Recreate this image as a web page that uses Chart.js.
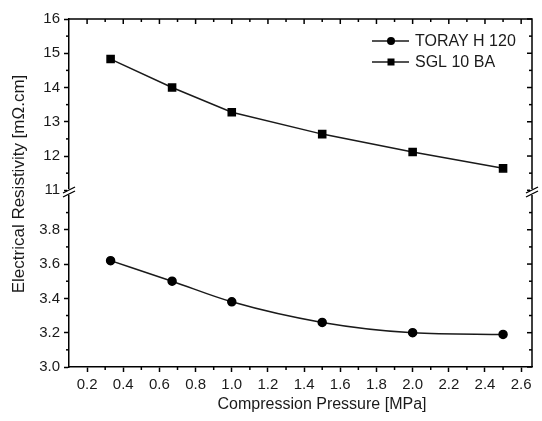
<!DOCTYPE html>
<html>
<head>
<meta charset="utf-8">
<script src="https://cdn.jsdelivr.net/npm/chart.js@4"></script>
<style>
  html,body{margin:0;padding:0;background:#fff;}
  #wrap{width:542px;height:421px;}
</style>
</head>
<body>
<div id="wrap"><canvas id="chart"></canvas></div>
<script>
// ------------------- Data -------------------
const pressure = [0.33, 0.67, 1.0, 1.5, 2.0, 2.5];
const toray = [3.62, 3.50, 3.38, 3.26, 3.20, 3.19];
const sgl = [14.83, 14.0, 13.28, 12.64, 12.12, 11.64];
const seriesNames = ["TORAY H 120", "SGL 10 BA"];

const xTicks = [0.2, 0.4, 0.6, 0.8, 1.0, 1.2, 1.4, 1.6, 1.8, 2.0, 2.2, 2.4, 2.6];
const lowTicks = [3.0, 3.2, 3.4, 3.6, 3.8];
const highTicks = [11, 12, 13, 14, 15, 16];

const FONT = "'Liberation Sans', Arial, sans-serif";
const INK = "#1a1a1a";

// midpoints between majors -> minor tick values
function minorsOf(ticks, lo, hi){
  const step = ticks[1] - ticks[0];
  const out = [];
  for (let v = ticks[0] - step/2; v < hi; v += step) {
    if (v > lo + 1e-6) out.push(+v.toFixed(3));
  }
  return out;
}

// ------------------- Plugin: frame, minor ticks, break, titles, legend -------------------
const framePlugin = {
  id: "frame",
  afterDraw(c){
    const ctx = c.ctx;
    const a = c.chartArea;
    const sx = c.scales.x, hi = c.scales.yHigh, lo = c.scales.yLow;
    ctx.save();
    ctx.strokeStyle = "#000";
    ctx.lineWidth = 1.5;

    // top and right border
    ctx.beginPath();
    ctx.moveTo(a.left, a.top); ctx.lineTo(a.right, a.top); ctx.lineTo(a.right, a.bottom);
    ctx.stroke();

    const line = (x1,y1,x2,y2)=>{ ctx.beginPath(); ctx.moveTo(x1,y1); ctx.lineTo(x2,y2); ctx.stroke(); };

    // x ticks: minors below, mirrored on top
    xTicks.forEach(v=>{
      const px = sx.getPixelForValue(v);
      line(px, a.top, px, a.top + 5);
    });
    minorsOf(xTicks, sx.min, sx.max).forEach(v=>{
      const px = sx.getPixelForValue(v);
      line(px, a.bottom, px, a.bottom + 3);
      line(px, a.top, px, a.top + 3);
    });

    // y ticks
    [[hi, highTicks], [lo, lowTicks]].forEach(([s, ticks])=>{
      ticks.forEach(v=>{
        if (v < s.min || v > s.max) return;
        const py = s.getPixelForValue(v);
        line(a.right - 5, py, a.right, py);
      });
      minorsOf(ticks, s.min, s.max).forEach(v=>{
        const py = s.getPixelForValue(v);
        line(a.left - 3, py, a.left, py);
        line(a.right - 3, py, a.right, py);
      });
    });

    // axis break marks
    const yb = lo.top;
    [a.left, a.right].forEach(x=>{
      ctx.fillStyle = "#fff";
      ctx.fillRect(x - 2, yb - 3, 4, 6);
      ctx.lineWidth = 1.3;
      line(x - 6, yb + 1, x + 6, yb - 5);
      line(x - 6, yb + 5, x + 6, yb - 1);
    });

    // axis titles
    ctx.fillStyle = INK;
    ctx.font = "16px " + FONT;
    ctx.textAlign = "center";
    ctx.textBaseline = "middle";
    ctx.fillText("Compression Pressure [MPa]", 322, 405);
    ctx.save();
    ctx.translate(19, 184);
    ctx.rotate(-Math.PI/2);
    ctx.font = "17px " + FONT;
    ctx.fillText("Electrical Resistivity [m\u03a9.cm]", 0, 0);
    ctx.restore();

    // legend
    const rows = [{y: 41, style: "circle"}, {y: 62, style: "rect"}];
    rows.forEach((r, i)=>{
      ctx.strokeStyle = INK;
      ctx.lineWidth = 1.5;
      line(372, r.y, 409, r.y);
      ctx.fillStyle = "#000";
      if (r.style === "circle") {
        ctx.beginPath(); ctx.arc(391, r.y, 4, 0, Math.PI*2); ctx.fill();
      } else {
        ctx.fillRect(387.5, r.y - 3.5, 7, 7);
      }
      ctx.fillStyle = INK;
      ctx.font = "16px " + FONT;
      ctx.textAlign = "left";
      ctx.fillText(seriesNames[i], 415, r.y + 1);
    });
    ctx.restore();
  }
};

// ------------------- Chart -------------------
const tickFont = { family: FONT, size: 15 };
const grid = { drawOnChartArea: false, drawTicks: true, tickLength: 5, color: "#000", tickWidth: 1.5 };
const border = { display: true, color: "#000", width: 1.5 };

new Chart(document.getElementById("chart"), {
  type: "line",
  data: {
    datasets: [
      {
        label: seriesNames[0],
        data: pressure.map((x, i)=>({x, y: toray[i]})),
        yAxisID: "yLow",
        borderColor: INK, borderWidth: 1.5,
        pointStyle: "circle", pointRadius: 4, pointBackgroundColor: "#000", pointBorderColor: "#000",
        cubicInterpolationMode: "monotone"
      },
      {
        label: seriesNames[1],
        data: pressure.map((x, i)=>({x, y: sgl[i]})),
        yAxisID: "yHigh",
        borderColor: INK, borderWidth: 1.5,
        pointStyle: "rect", pointRadius: 5, pointBackgroundColor: "#000", pointBorderColor: "#000",
        tension: 0
      }
    ]
  },
  options: {
    responsive: true,
    maintainAspectRatio: false,
    animation: false,
    layout: { padding: { top: 19, right: 10, left: 0, bottom: 0 } },
    plugins: { legend: { display: false }, tooltip: { enabled: false } },
    scales: {
      x: {
        type: "linear", position: "bottom", min: 0.1, max: 2.66,
        afterBuildTicks: s => { s.ticks = xTicks.map(v=>({value: v})); },
        afterFit: s => { s.height = 54; },
        ticks: { font: tickFont, color: INK, padding: 4, autoSkip: false, maxRotation: 0, callback: v => v.toFixed(1) },
        grid, border
      },
      yLow: {
        type: "linear", position: "left", stack: "y", stackWeight: 175,
        min: 3.0, max: 4.02,
        afterBuildTicks: s => { s.ticks = lowTicks.map(v=>({value: v})); },
        afterFit: s => { s.width = 69; },
        ticks: { font: tickFont, color: INK, padding: 4, autoSkip: false, callback: v => v.toFixed(1) },
        grid, border
      },
      yHigh: {
        type: "linear", position: "left", stack: "y", stackWeight: 173,
        min: 10.95, max: 16,
        afterBuildTicks: s => { s.ticks = highTicks.map(v=>({value: v})); },
        afterFit: s => { s.width = 69; },
        ticks: { font: tickFont, color: INK, padding: 4, autoSkip: false, callback: v => String(v) },
        grid, border
      }
    }
  },
  plugins: [framePlugin]
});
</script>
</body>
</html>
